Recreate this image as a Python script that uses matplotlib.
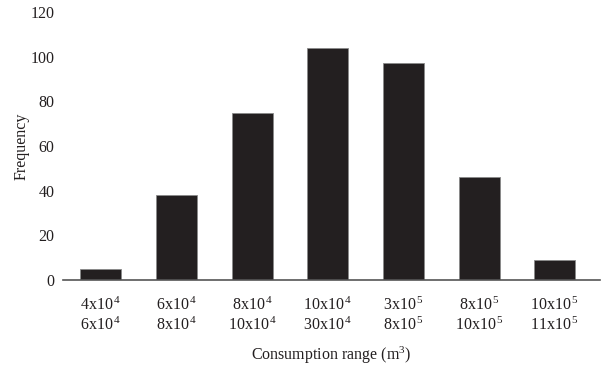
import matplotlib
matplotlib.use("Agg")
import matplotlib.pyplot as plt

plt.rcParams["font.family"] = ["Liberation Serif", "DejaVu Serif"]
plt.rcParams["mathtext.fontset"] = "custom"
plt.rcParams["mathtext.rm"] = "Liberation Serif"
plt.rcParams["mathtext.it"] = "Liberation Serif:italic"

range_low = ["4x10$^{\\,4}$", "6x10$^{\\,4}$", "8x10$^{\\,4}$", "10x10$^{\\,4}$",
             "3x10$^{\\,5}$", "8x10$^{\\,5}$", "10x10$^{\\,5}$"]
range_high = ["6x10$^{\\,4}$", "8x10$^{\\,4}$", "10x10$^{\\,4}$", "30x10$^{\\,4}$",
              "8x10$^{\\,5}$", "10x10$^{\\,5}$", "11x10$^{\\,5}$"]
frequency = [5, 38, 75, 104, 97, 46, 9]
y_ticks = [0, 20, 40, 60, 80, 100, 120]

fig = plt.figure(figsize=(6.05, 3.73), dpi=100)
ax = fig.add_axes([0.104, 0.249, 0.888, 0.719])

x = list(range(len(frequency)))
ax.bar(x, frequency, width=0.54, color="#231f20", edgecolor="#8a8a8a", linewidth=0.6, zorder=2)

ax.set_xlim(-0.5, 6.6)
ax.set_ylim(0, 120)
ax.set_yticks(y_ticks)
ax.set_yticklabels([str(v) for v in y_ticks], fontsize=11.5)
ax.set_xticks(x)
ax.set_xticklabels([f"{a}\n{b}" for a, b in zip(range_low, range_high)], fontsize=11.5, linespacing=1.2)

for side in ["top", "right", "left"]:
    ax.spines[side].set_visible(False)
ax.spines["bottom"].set_color("#555555")
ax.spines["bottom"].set_linewidth(1.2)
ax.tick_params(axis="both", length=0, colors="#231f20")
ax.tick_params(axis="x", pad=12)
ax.tick_params(axis="y", pad=6)

ax.set_ylabel("Frequency", fontsize=11.5, labelpad=1, color="#231f20")
ax.set_xlabel("Consumption range (m$^3$)", fontsize=11.5, labelpad=8, color="#231f20")

fig.savefig("out.png", dpi=100)
